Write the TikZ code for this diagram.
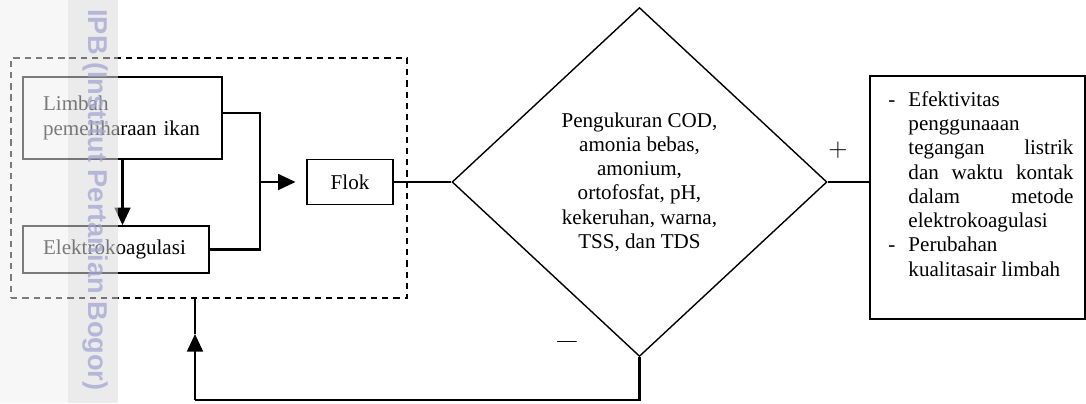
\documentclass[tikz,border=0pt]{standalone}
\usepackage{fontspec}
\setmainfont{Liberation Serif}
\newfontfamily\wmfont{Liberation Sans}
\usetikzlibrary{arrows.meta,shapes.geometric}
\definecolor{wmcol}{RGB}{165,165,210}

\begin{document}
\begin{tikzpicture}[x=.02cm,y=-.02cm,>={Triangle[length=10pt,width=9pt]},
  font=\fontsize{12}{13.8}\selectfont,
  kotak/.style={draw,line width=1pt,inner sep=0pt},
  alur/.style={line width=1.3pt}]
\useasboundingbox (0,0) rectangle (1086,403);
% kotak proses (garis putus)
\node[draw,line width=.9pt,dash pattern=on 3.6pt off 2.8pt,minimum width=7.92cm,minimum height=4.8cm] (proses) at (209,178) {};
\node[kotak,minimum width=3.98cm,minimum height=1.64cm,text width=3.18cm,align=left] (limbah) at (122.5,118) {Limbah\\pemeliharaan ikan};
\node[kotak,minimum width=3.72cm,minimum height=.94cm,text width=2.92cm,align=left] (elektro) at (116,249.5) {Elektrokoagulasi};
\node[kotak,minimum width=1.72cm,minimum height=.9cm] (flok) at (350,182) {Flok};
\node[diamond,draw,line width=.8pt,inner sep=0pt,minimum width=7.5cm,minimum height=6.98cm,align=center] (ukur) at (639.5,182)
  {Pengukuran COD,\\amonia bebas,\\amonium,\\ortofosfat, pH,\\kekeruhan, warna,\\TSS, dan TDS};
\node[kotak,minimum width=4.3cm,minimum height=4.86cm] (hasil) at (977.5,197.5) {};
\node[anchor=north west,inner sep=0pt] (hasilteks) at ([xshift=.38cm,yshift=-.28cm]hasil.north west)
  {\begin{tabular}{@{}p{.4cm}@{}p{3.3cm}@{}}
  -&Efektivitas\\
  &penggunaaan\\
  &\makebox[3.3cm][s]{tegangan listrik}\\
  &\makebox[3.3cm][s]{dan waktu kontak}\\
  &\makebox[3.3cm][s]{dalam metode}\\
  &elektrokoagulasi\\
  -&Perubahan\\
  &kualitasair limbah
  \end{tabular}};
\node (plus) at (838,150) {\fontsize{14}{14}\selectfont$+$};
\node (minus) at (567,344) {\fontsize{11}{11}\selectfont---};
% alur
\coordinate (cab) at (260,182);
\coordinate (bawah) at (195,400);
\coordinate (tengah) at (195,334);
\draw[alur,->] (limbah.south) -- (limbah.south |- elektro.north);
\draw[alur] ([yshift=.1cm]limbah.east) -| (cab);
\draw[alur] (elektro.east) -| (cab);
\draw[alur,->,shorten >=6pt] (cab) -- (flok.west);
\draw[alur] (flok.east) -- (ukur.west);
\draw[alur] (ukur.east) -- (ukur.east -| hasil.west);
\draw[alur] (ukur.south) |- (bawah);
\draw[alur,->] (bawah) -- (tengah);
\draw[alur] (tengah) -- (proses.south -| tengah);
% tanda air
\fill[white,opacity=.5] (0,0) rectangle (118,403);
\fill[black,opacity=.03] (0,0) rectangle (68,403);
\fill[black,opacity=.08] (68,0) rectangle (118,403);
\node[rotate=-90,text=wmcol,opacity=.75,font=\wmfont\bfseries\fontsize{15.5}{16}\selectfont] (ipb) at (95,200) {IPB (Institut Pertanian Bogor)};
\end{tikzpicture}
\end{document}
